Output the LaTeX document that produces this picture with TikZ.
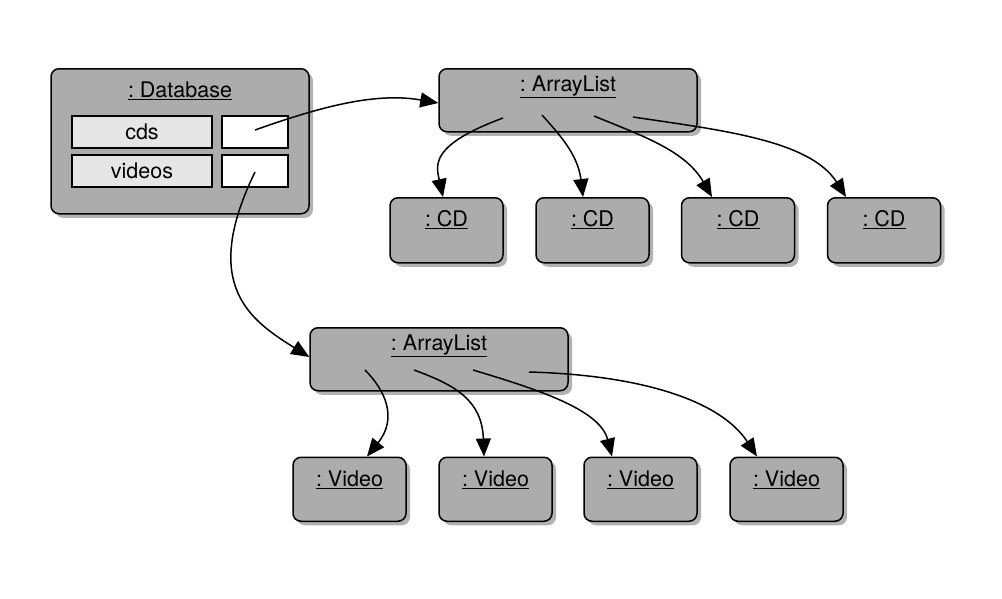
\documentclass[tikz,border=0pt]{standalone}
\usepackage{fontspec}
\setmainfont{TeX Gyre Heros}
\usetikzlibrary{shadows,arrows.meta}
\definecolor{boxgray}{RGB}{172,172,172}
\definecolor{fieldgray}{RGB}{230,230,230}
\frenchspacing
\begin{document}
\begin{tikzpicture}[x=1pt,y=-1pt,
  every node/.style={font=\fontsize{21.5}{25}\selectfont},
  obj/.style={rectangle, rounded corners=8pt, draw=black, line width=1.5pt, fill=boxgray,
    drop shadow={shadow xshift=4pt, shadow yshift=-4pt, fill=black, opacity=0.3},
    inner sep=0pt, anchor=north},
  cdobj/.style={obj, minimum width=113pt, text height=28.5pt, text depth=36.5pt},
  vidobj/.style={obj, minimum width=113pt, text height=29pt, text depth=35pt},
  listobj/.style={obj, minimum width=258pt, text height=22.5pt, text depth=40.5pt},
  field/.style={rectangle, draw=black, line width=1.1pt, fill=fieldgray, minimum width=140pt, minimum height=32pt, inner sep=0pt},
  valbox/.style={rectangle, draw=black, line width=1.1pt, fill=white, minimum width=66pt, minimum height=32pt, inner sep=0pt},
  link/.style={line width=1.5pt, -{Triangle[length=18pt,width=15pt]}}
]
\useasboundingbox (0,0) rectangle (1002,598);
% database
\node[obj, minimum width=258pt, text height=29pt, text depth=116pt] (db) at (180,68) {\underline{: Database}};
\node[field] (cdsf) at (142,132) {cds};
\node[valbox] (cdsv) at (255,132) {};
\node[field] (vidf) at (142,171) {videos};
\node[valbox] (vidv) at (255,171) {};
% lists
\node[listobj] (al1) at (568,68) {\underline{: ArrayList}};
\node[listobj] (al2) at (439,327) {\underline{: ArrayList}};
% CDs
\node[cdobj] (cd1) at (446.5,197) {\underline{: CD}};
\node[cdobj] (cd2) at (592.5,197) {\underline{: CD}};
\node[cdobj] (cd3) at (738,197) {\underline{: CD}};
\node[cdobj] (cd4) at (884,197) {\underline{: CD}};
% Videos
\node[vidobj] (v1) at (349.5,456.5) {\underline{: Video}};
\node[vidobj] (v2) at (495.5,456.5) {\underline{: Video}};
\node[vidobj] (v3) at (640.5,456.5) {\underline{: Video}};
\node[vidobj] (v4) at (786.5,456.5) {\underline{: Video}};
% connector start points
\coordinate (s1) at (255,130);
\coordinate (s2) at (255,172);
\coordinate (a1) at (503,118);
\coordinate (a2) at (542,115);
\coordinate (a3) at (594,116);
\coordinate (a4) at (633,117);
\coordinate (b1) at (365,370);
\coordinate (b2) at (414,370);
\coordinate (b3) at (473,370);
\coordinate (b4) at (529,372);
% connectors
\draw[link] (s1) .. controls (320,107) and (375,92) .. (al1.west |- 0,103);
\draw[link] (s2) .. controls (200,285) and (250,320) .. (al2.west |- 0,357);
\draw[link] (a1) .. controls (430,145) and (436,165) .. (cd1.north -| 443,0);
\draw[link] (a2) .. controls (560,135) and (578,155) .. (cd2.north -| 583,0);
\draw[link] (a3) .. controls (640,135) and (685,150) .. (cd3.north -| 712,0);
\draw[link] (a4) .. controls (720,130) and (810,140) .. (cd4.north -| 846,0);
\draw[link] (b1) .. controls (385,390) and (398,418) .. (v1.north -| 367,0);
\draw[link] (b2) .. controls (455,385) and (482,400) .. (v2.north -| 484,0);
\draw[link] (b3) .. controls (540,390) and (600,410) .. (v3.north -| 612,0);
\draw[link] (b4) .. controls (640,375) and (720,400) .. (v4.north -| 757,0);
\end{tikzpicture}
\end{document}
